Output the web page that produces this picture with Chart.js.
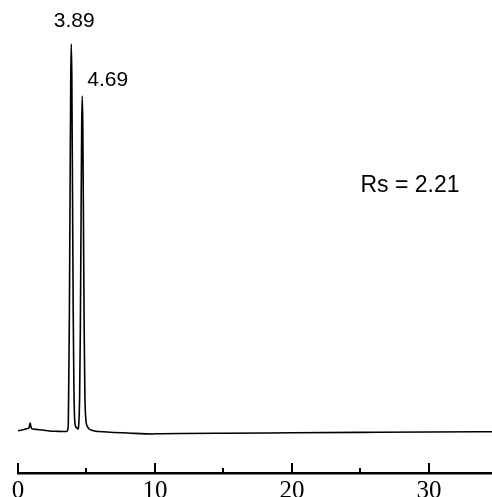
<!DOCTYPE html>
<html>
<head>
<meta charset="utf-8">
<script src="https://cdn.jsdelivr.net/npm/chart.js@4.4.1/dist/chart.umd.min.js"></script>
<style>
  html, body { margin: 0; padding: 0; background: #fff; }
  #chromatogram { display: block; }
</style>
</head>
<body>
<canvas id="chromatogram" width="492" height="497"></canvas>
<script>
// retention time (min) and detector signal (mAU)
const times = [
    0.00, 0.30, 0.55, 0.70, 0.80, 0.85, 0.89, 0.93, 1.00, 1.10, 1.40, 1.80, 2.30, 2.80, 3.30, 3.55,
    3.62, 3.67, 3.70, 3.75, 3.80, 3.85, 3.89, 3.93, 3.98, 4.03, 4.08, 4.13, 4.20, 4.30, 4.37,
    4.45, 4.50, 4.55, 4.60, 4.65, 4.69, 4.73, 4.78, 4.83, 4.88, 4.95, 5.05, 5.20, 5.50,
    6.50, 8.00, 9.90, 10.00, 15.00, 20.00, 25.00, 30.00, 34.60
];
const signal = [
    3.3, 4, 5, 5.5, 6, 9, 11, 8, 5.5, 5, 4.5, 4, 3, 2.7, 2.5, 2.5,
    4, 10, 45, 119, 239, 355, 390, 356, 241, 122, 48, 16, 8, 6, 5,
    13, 39, 103, 208, 308, 338, 309, 210, 105, 41, 15, 8, 5, 3.3,
    2, 1, 0, 0.3, 0.8, 1.2, 1.6, 2, 2.3
];
const tickValues = [0, 10, 20, 30];
const minorTickValues = [5, 15, 25];
const peakLabels = [
    { t: 3.89, h: 390, text: '3.89' },
    { t: 4.69, h: 338, text: '4.69' }
];
const resolutionNote = { t: 25, h: 242, text: 'Rs = 2.21' };

const axisTicks = {
    id: 'axisTicks',
    afterDraw: function(chart) {
        const ctx = chart.ctx;
        const x = chart.scales.x;
        const bottom = chart.chartArea.bottom;
        ctx.save();
        ctx.strokeStyle = '#000';
        ctx.lineWidth = 2;
        tickValues.forEach(function(v) {
            const px = Math.round(x.getPixelForValue(v));
            ctx.beginPath();
            ctx.moveTo(px, bottom);
            ctx.lineTo(px, bottom - 10);
            ctx.stroke();
        });
        minorTickValues.forEach(function(v) {
            const px = Math.round(x.getPixelForValue(v));
            ctx.beginPath();
            ctx.moveTo(px, bottom);
            ctx.lineTo(px, bottom - 5);
            ctx.stroke();
        });
        ctx.restore();
    }
};

const annotations = {
    id: 'annotations',
    afterDatasetsDraw: function(chart) {
        const ctx = chart.ctx;
        const x = chart.scales.x;
        const y = chart.scales.y;
        ctx.save();
        ctx.fillStyle = '#000';
        ctx.textBaseline = 'alphabetic';
        ctx.font = '21px "Liberation Sans", Arial, sans-serif';

        // first peak: centred just right of apex
        ctx.textAlign = 'center';
        ctx.fillText(peakLabels[0].text, x.getPixelForValue(peakLabels[0].t) + 3, y.getPixelForValue(peakLabels[0].h) - 17);
        // second peak: to the right of apex
        ctx.textAlign = 'left';
        ctx.fillText(peakLabels[1].text, x.getPixelForValue(peakLabels[1].t) + 5, y.getPixelForValue(peakLabels[1].h) - 10);

        ctx.font = '23px "Liberation Sans", Arial, sans-serif';
        ctx.fillText(resolutionNote.text, x.getPixelForValue(resolutionNote.t), y.getPixelForValue(resolutionNote.h));
        ctx.restore();
    }
};

new Chart(document.getElementById('chromatogram'), {
    type: 'line',
    data: {
        datasets: [{
            data: times.map(function(t, i) { return { x: t, y: signal[i] }; }),
            borderColor: '#000',
            borderWidth: 1.6,
            pointRadius: 0,
            cubicInterpolationMode: 'monotone',
            fill: false
        }]
    },
    options: {
        responsive: false,
        devicePixelRatio: 1,
        animation: false,
        layout: { padding: { left: 18, right: 0, top: 0, bottom: 0 } },
        plugins: {
            legend: { display: false },
            tooltip: { enabled: false }
        },
        scales: {
            x: {
                type: 'linear',
                min: 0,
                max: 34.6,
                afterFit: function(scale) { scale.height = 24; },
                border: { display: true, color: '#000', width: 2.5 },
                grid: { drawOnChartArea: false, drawTicks: false },
                ticks: {
                    stepSize: 10,
                    includeBounds: false,
                    padding: 3,
                    color: '#000',
                    maxRotation: 0,
                    font: { family: '"Liberation Serif", "Times New Roman", serif', size: 25 }
                }
            },
            y: {
                display: false,
                min: -39,
                max: 434
            }
        }
    },
    plugins: [axisTicks, annotations]
});
</script>
</body>
</html>
